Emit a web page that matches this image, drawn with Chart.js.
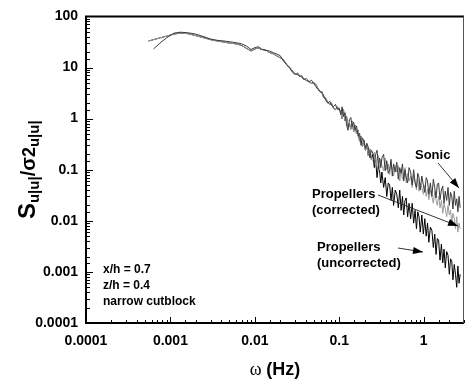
<!DOCTYPE html>
<html><head><meta charset="utf-8">
<script src="https://cdn.jsdelivr.net/npm/chart.js@4"></script>
<style>html,body{margin:0;padding:0;background:#fff}canvas{display:block}</style>
</head><body>
<canvas id="c" width="474" height="383"></canvas>
<script>
// frequencies (Hz)
const freq = [
 0.00055,0.00063,0.00075,0.0009,0.0011,0.0013,0.0016,0.002,0.0025,0.003,
 0.0036,0.0043,0.005,0.006,0.007,0.008,0.009,0.010,0.011,0.012,
 0.0135,0.015,0.0165,0.018,0.020,0.022,0.024,0.026,0.028,0.030,
 0.032,0.034,0.036,0.038,0.041,0.044,0.047,0.050,0.053,0.056,
 0.059,0.062,0.065,0.069,0.073,0.077,0.081,0.085,0.090,0.095,
 0.100,0.104,0.108,0.112,0.117,0.122,0.127,0.132,0.137,0.142,
 0.148,0.154,0.160,0.167,0.174,0.181,0.188,0.196,0.204,0.212,
 0.220,0.230,0.240,0.250,0.260,0.270,0.280,0.290,0.300,0.310,
 0.320,0.335,0.350,0.365,0.380,0.395,0.410,0.425,0.440,0.460,
 0.480,0.500,0.520,0.540,0.560,0.580,0.600,0.620,0.645,0.670,
 0.700,0.730,0.760,0.790,0.820,0.850,0.880,0.910,0.950,0.990,
 1.03,1.07,1.11,1.15,1.20,1.25,1.30,1.35,1.40,1.45,
 1.50,1.56,1.62,1.68,1.74,1.80,1.87,1.94,2.01,2.08,
 2.15,2.22,2.30,2.38,2.46,2.54,2.62,2.70
];
const sonic = [
 null,23,30,38,47,49,48,45,40,36,
 34,33,32,30.5,29,26,22.5,24.5,25.5,23,
 21.5,21,19.5,18.5,17,13,11.5,9.5,8,7.6,
 7.2,7.0,6.4,6.0,5.5,5.3,5.6,4.8,4.2,3.7,
 3.5,3.2,2.9,2.3,2.0,2.2,1.8,1.7,1.9,1.5,
 1.6,1.2,1.7,1.1,1.3,0.75,0.59,0.95,1.05,0.7,
 0.85,0.6,0.72,0.45,0.52,0.3,0.42,0.36,0.26,0.33,
 0.28,0.17,0.24,0.21,0.13,0.2,0.24,0.12,0.17,0.11,
 0.17,0.2,0.095,0.15,0.085,0.1,0.16,0.075,0.13,0.09,
 0.14,0.065,0.11,0.085,0.13,0.06,0.1,0.07,0.055,0.11,
 0.09,0.05,0.1,0.055,0.045,0.085,0.07,0.04,0.075,0.05,
 0.036,0.07,0.06,0.033,0.055,0.03,0.065,0.045,0.028,0.052,
 0.055,0.026,0.04,0.048,0.022,0.038,0.025,0.045,0.02,0.036,
 0.03,0.017,0.038,0.02,0.027,0.015,0.03,0.018
];
const propCorrected = [
 33,35,38,41,45,47,46,42,38,35,
 33,31.5,30,29,27,23.5,21,23,24,22.5,
 22,19.5,18.5,17,15.5,14,11,10,8.5,7.2,
 7.8,6.6,6.9,5.8,6.1,5.2,4.9,5.1,4.6,3.9,
 3.3,3.4,2.6,2.5,2.1,1.9,2.0,1.6,1.5,1.7,
 1.45,1.4,1.0,1.5,0.9,1.1,0.7,0.8,0.62,0.9,
 0.55,0.75,0.5,0.6,0.35,0.45,0.28,0.38,0.24,0.3,
 0.19,0.26,0.16,0.15,0.22,0.12,0.17,0.19,0.1,0.16,
 0.12,0.095,0.17,0.1,0.13,0.08,0.14,0.1,0.075,0.12,
 0.09,0.12,0.06,0.1,0.065,0.075,0.11,0.055,0.085,0.06,
 0.075,0.045,0.08,0.06,0.04,0.07,0.038,0.055,0.045,0.033,
 0.05,0.03,0.042,0.026,0.04,0.03,0.022,0.038,0.025,0.02,
 0.03,0.018,0.025,0.014,0.022,0.017,0.012,0.02,0.013,0.016,
 0.009,0.014,0.011,0.007,0.012,0.006,0.009,0.007
];
const propUncorrected = [
 33,35,38,41,45,47,46,42,38,35,
 33,31.5,30,29,27,23.5,21,23,24,22.5,
 22,19.5,18.5,17,15.5,14,11,10,8.5,7.2,
 7.8,6.6,6.9,5.8,6.1,5.2,4.9,5.1,4.6,3.9,
 3.3,3.4,2.6,2.5,2.1,1.9,2.0,1.6,1.5,1.7,
 1.45,1.4,1.0,1.5,0.9,1.1,0.7,0.8,0.62,0.9,
 0.55,0.75,0.5,0.6,0.35,0.45,0.28,0.38,0.24,0.3,
 0.19,0.25,0.16,0.2,0.11,0.15,0.07,0.12,0.095,0.055,
 0.09,0.045,0.07,0.03,0.055,0.05,0.025,0.045,0.02,0.04,
 0.033,0.018,0.04,0.016,0.03,0.013,0.025,0.028,0.012,0.022,
 0.011,0.022,0.009,0.016,0.007,0.015,0.012,0.006,0.013,0.0055,
 0.011,0.005,0.009,0.0038,0.0075,0.0065,0.003,0.0055,0.0022,0.0045,
 0.0042,0.0017,0.0035,0.0015,0.0028,0.0012,0.0025,0.0021,0.0009,0.0018,
 0.0016,0.0007,0.0014,0.0009,0.0005,0.0013,0.0006,0.0009
];
const xTickLabels = ['0.0001','0.001','0.01','0.1','1'];
const yTickLabels = ['0.0001','0.001','0.01','0.1','1','10','100'];
const seriesNames = ['Sonic','Propellers (corrected)','Propellers (uncorrected)'];
const infoLines = ['x/h = 0.7','z/h = 0.4','narrow cutblock'];

const FONT = "'Liberation Sans', Arial, Helvetica, sans-serif";

// annotation layout (canvas pixels)
const annotations = [
  {lines:['Sonic'], x:415, y:155, arrow:[438,163,459,188]},
  {lines:['Propellers','(corrected)'], x:312, y:194, arrow:[378,195,458,226]},
  {lines:['Propellers','(uncorrected)'], x:317, y:247, arrow:[398,248,423,252]}
];

function pts(vals){ const out=[]; for(let i=0;i<freq.length;i++){ if(vals[i]!=null) out.push({x:freq[i],y:vals[i]}); } return out; }
function isDecade(v){ const l=Math.log10(v); return Math.abs(l-Math.round(l))<1e-6; }
function decadeLabel(v, labels){ const s = labels.find(t=>Math.abs(parseFloat(t)-v)/v<1e-6); return s||''; }

function arrow(ctx,x1,y1,x2,y2){
  ctx.beginPath(); ctx.moveTo(x1,y1); ctx.lineTo(x2,y2); ctx.stroke();
  const ang=Math.atan2(y2-y1,x2-x1), L=10, W=3.5;
  ctx.beginPath(); ctx.moveTo(x2,y2);
  ctx.lineTo(x2-L*Math.cos(ang)+W*Math.sin(ang), y2-L*Math.sin(ang)-W*Math.cos(ang));
  ctx.lineTo(x2-L*Math.cos(ang)-W*Math.sin(ang), y2-L*Math.sin(ang)+W*Math.cos(ang));
  ctx.closePath(); ctx.fill();
}

const decor = {
  id:'decor',
  afterDraw(chart){
    const ctx=chart.ctx, a=chart.chartArea, xs=chart.scales.x, ys=chart.scales.y;
    ctx.save();
    ctx.strokeStyle='#000'; ctx.lineWidth=1;
    ys.ticks.forEach(t=>{ const p=Math.round(ys.getPixelForValue(t.value))+0.5; const len=isDecade(t.value)?7:4; ctx.beginPath(); ctx.moveTo(a.left,p); ctx.lineTo(a.left+len,p); ctx.stroke(); });
    xs.ticks.forEach(t=>{ const p=Math.round(xs.getPixelForValue(t.value))+0.5; const len=isDecade(t.value)?6:3; ctx.beginPath(); ctx.moveTo(p,a.bottom); ctx.lineTo(p,a.bottom-len); ctx.stroke(); });
    // frame
    ctx.lineWidth=2; ctx.strokeStyle='#000';
    ctx.beginPath(); ctx.moveTo(a.right,a.top); ctx.lineTo(a.left,a.top); ctx.lineTo(a.left,a.bottom); ctx.lineTo(a.right,a.bottom); ctx.stroke();
    ctx.lineWidth=1; ctx.strokeStyle='#555';
    ctx.beginPath(); ctx.moveTo(a.right-0.5,a.top); ctx.lineTo(a.right-0.5,a.bottom); ctx.stroke();

    // info text
    ctx.fillStyle='#000'; ctx.textBaseline='middle'; ctx.textAlign='left';
    ctx.font='bold 12px '+FONT;
    infoLines.forEach((t,i)=>ctx.fillText(t, 103, 270+i*16));

    // annotations
    ctx.font='bold 13px '+FONT;
    annotations.forEach(an=>{ an.lines.forEach((t,i)=>ctx.fillText(t, an.x, an.y+i*16)); });
    ctx.strokeStyle='#333'; ctx.fillStyle='#000'; ctx.lineWidth=1;
    annotations.forEach(an=>arrow(ctx, ...an.arrow));

    // x title
    ctx.textBaseline='alphabetic';
    const f1='18px "Liberation Serif", "DejaVu Serif", serif', f2='bold 18px '+FONT;
    ctx.font=f1; const w1=ctx.measureText('\u03C9 ').width;
    ctx.font=f2; const w2=ctx.measureText('(Hz)').width;
    const cx=(a.left+a.right)/2, x0=cx-(w1+w2)/2, by=375;
    ctx.font=f1; ctx.fillText('\u03C9 ', x0, by);
    ctx.font=f2; ctx.fillText('(Hz)', x0+w1, by);

    // y title (rotated)
    ctx.translate(27,(a.top+a.bottom)/2); ctx.rotate(-Math.PI/2);
    const segs=[
      {t:'S',f:'bold 24px '+FONT,dy:0},
      {t:'u|u|',f:'bold 15px '+FONT,dy:4},
      {t:'/',f:'bold 20px '+FONT,dy:0},
      {t:'\u03C3',f:'bold 20px '+FONT,dy:0},
      {t:'2',f:'bold 18px '+FONT,dy:0},
      {t:'u|u|',f:'bold 15px '+FONT,dy:4}
    ];
    let tot=0; segs.forEach(s=>{ctx.font=s.f; s.w=ctx.measureText(s.t).width; tot+=s.w;});
    let xx=-tot/2;
    segs.forEach(s=>{ ctx.font=s.f; ctx.fillText(s.t, xx, 8+s.dy); xx+=s.w; });
    ctx.restore();
  }
};

const tickFont = {family:FONT, size:14, weight:'bold'};

new Chart(document.getElementById('c'), {
  type:'line',
  data:{ datasets:[
    {label:seriesNames[0], data:pts(sonic), borderColor:'#3a3a3a', borderWidth:1, pointRadius:0, order:1, tension:0},
    {label:seriesNames[1], data:pts(propCorrected), borderColor:'#9a9a9a', borderWidth:1, pointRadius:0, order:2, tension:0},
    {label:seriesNames[2], data:pts(propUncorrected), borderColor:'#000000', borderWidth:1, pointRadius:0, order:3, tension:0}
  ]},
  options:{
    responsive:false, animation:false, devicePixelRatio:1,
    layout:{padding:{left:0,right:1,top:16,bottom:0}},
    plugins:{legend:{display:false}, tooltip:{enabled:false}},
    scales:{
      x:{type:'logarithmic', min:0.0001, max:3,
         grid:{display:false, drawTicks:false}, border:{display:false},
         ticks:{autoSkip:false, maxRotation:0, padding:10, color:'#000', font:tickFont, callback:(v)=>decadeLabel(v,xTickLabels)},
         afterFit(s){ s.height=60; }},
      y:{type:'logarithmic', min:0.0001, max:100,
         grid:{display:false, drawTicks:false}, border:{display:false},
         ticks:{autoSkip:false, padding:8, color:'#000', font:tickFont, callback:(v)=>decadeLabel(v,yTickLabels)},
         afterFit(s){ s.width=86; }}
    }
  },
  plugins:[decor]
});
</script>
</body></html>
